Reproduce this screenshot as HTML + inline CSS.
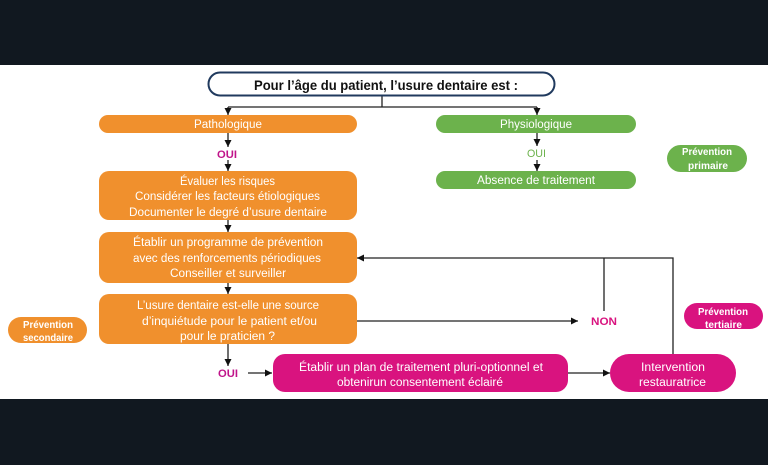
<!DOCTYPE html>
<html><head><meta charset="utf-8"><style>
html,body{margin:0;padding:0;background:#111820;}
svg{display:block;}
text{font-family:"Liberation Sans",sans-serif;}
</style></head><body>
<svg width="768" height="465" viewBox="0 0 768 465" xmlns="http://www.w3.org/2000/svg">
<rect x="0" y="0" width="768" height="465" fill="#111820"/>
<rect x="0" y="65" width="768" height="334" fill="#ffffff"/>
<defs>
<marker id="ah" viewBox="0 0 10 10" refX="10" refY="5" markerWidth="7" markerHeight="7" orient="auto" markerUnits="userSpaceOnUse">
<path d="M0,0 L10,5 L0,10 z" fill="#111"/>
</marker>
</defs>
<g stroke="#222" stroke-width="1.3" fill="none">
<line x1="382" y1="95" x2="382" y2="107"/>
<line x1="228" y1="107" x2="537" y2="107"/>
<line x1="228" y1="107" x2="228" y2="115" marker-end="url(#ah)"/>
<line x1="537" y1="107" x2="537" y2="115" marker-end="url(#ah)"/>
<line x1="228" y1="133" x2="228" y2="147" marker-end="url(#ah)"/>
<line x1="228" y1="160" x2="228" y2="171" marker-end="url(#ah)"/>
<line x1="228" y1="220" x2="228" y2="232" marker-end="url(#ah)"/>
<line x1="228" y1="283" x2="228" y2="294" marker-end="url(#ah)"/>
<line x1="228" y1="344" x2="228" y2="366" marker-end="url(#ah)"/>
<line x1="248" y1="373" x2="272" y2="373" marker-end="url(#ah)"/>
<line x1="568" y1="373" x2="610" y2="373" marker-end="url(#ah)"/>
<line x1="537" y1="133" x2="537" y2="146" marker-end="url(#ah)"/>
<line x1="537" y1="160" x2="537" y2="171" marker-end="url(#ah)"/>
<polyline points="673,354 673,258 357,258" marker-end="url(#ah)"/>
<line x1="604" y1="258" x2="604" y2="311"/>
<line x1="357" y1="321" x2="578" y2="321" marker-end="url(#ah)"/>
</g>
<rect x="208.5" y="72.5" width="346" height="23" rx="11.5" fill="#fff" stroke="#203a5e" stroke-width="2"/>
<text x="254" y="90" font-size="14" font-weight="bold" fill="#111" textLength="264" lengthAdjust="spacingAndGlyphs">Pour l’âge du patient, l’usure dentaire est :</text>

<g fill="#F0902D">
<rect x="99" y="115" width="258" height="18" rx="9"/>
<rect x="99" y="171" width="258" height="49" rx="10"/>
<rect x="99" y="232" width="258" height="51" rx="10"/>
<rect x="99" y="294" width="258" height="50" rx="10"/>
<rect x="8" y="317" width="79" height="26" rx="13"/>
</g>
<g fill="#6CB24C">
<rect x="436" y="115" width="200" height="18" rx="9"/>
<rect x="436" y="171" width="200" height="18" rx="9"/>
<rect x="667" y="145" width="80" height="27" rx="13.5"/>
</g>
<g fill="#D9137F">
<rect x="273" y="354" width="295" height="38" rx="12"/>
<rect x="610" y="354" width="126" height="38" rx="19"/>
<rect x="684" y="303" width="79" height="26" rx="13"/>
</g>

<g fill="#fff" font-size="11.5">
<text x="194" y="128" textLength="68" lengthAdjust="spacingAndGlyphs">Pathologique</text>
<text x="180" y="185" textLength="95" lengthAdjust="spacingAndGlyphs">Évaluer les risques</text>
<text x="135" y="200" textLength="185" lengthAdjust="spacingAndGlyphs">Considérer les facteurs étiologiques</text>
<text x="129" y="216" textLength="198" lengthAdjust="spacingAndGlyphs">Documenter le degré d’usure dentaire</text>
<text x="133" y="246" textLength="190" lengthAdjust="spacingAndGlyphs">Établir un programme de prévention</text>
<text x="133" y="262" textLength="188" lengthAdjust="spacingAndGlyphs">avec des renforcements périodiques</text>
<text x="170" y="277" textLength="116" lengthAdjust="spacingAndGlyphs">Conseiller et surveiller</text>
<text x="137" y="309" textLength="182" lengthAdjust="spacingAndGlyphs">L’usure dentaire est-elle une source</text>
<text x="142" y="325" textLength="175" lengthAdjust="spacingAndGlyphs">d’inquiétude pour le patient et/ou</text>
<text x="180" y="340" textLength="95" lengthAdjust="spacingAndGlyphs">pour le praticien ?</text>
<text x="500" y="128" textLength="72" lengthAdjust="spacingAndGlyphs">Physiologique</text>
<text x="477" y="184" textLength="118" lengthAdjust="spacingAndGlyphs">Absence de traitement</text>
<text x="299" y="371" textLength="244" lengthAdjust="spacingAndGlyphs">Établir un plan de traitement pluri-optionnel et</text>
<text x="337" y="386" textLength="166" lengthAdjust="spacingAndGlyphs">obtenirun consentement éclairé</text>
<text x="641" y="371" textLength="64" lengthAdjust="spacingAndGlyphs">Intervention</text>
<text x="639" y="386" textLength="67" lengthAdjust="spacingAndGlyphs">restauratrice</text>
</g>
<g fill="#fff" font-size="10" font-weight="bold">
<text x="682" y="155" textLength="50" lengthAdjust="spacingAndGlyphs">Prévention</text>
<text x="688" y="169" textLength="40" lengthAdjust="spacingAndGlyphs">primaire</text>
<text x="23" y="328" textLength="50" lengthAdjust="spacingAndGlyphs">Prévention</text>
<text x="23" y="341" textLength="50" lengthAdjust="spacingAndGlyphs">secondaire</text>
<text x="698" y="315" textLength="50" lengthAdjust="spacingAndGlyphs">Prévention</text>
<text x="705" y="328" textLength="37" lengthAdjust="spacingAndGlyphs">tertiaire</text>
</g>
<g font-size="11" font-weight="bold">
<text x="217" y="158" fill="#C0148A" textLength="20" lengthAdjust="spacingAndGlyphs">OUI</text>
<text x="218" y="377" fill="#C0148A" textLength="20" lengthAdjust="spacingAndGlyphs">OUI</text>
<text x="591" y="325" fill="#D9137F" textLength="26" lengthAdjust="spacingAndGlyphs">NON</text>
</g>
<text x="527" y="157" font-size="11" fill="#6CB24C" textLength="19" lengthAdjust="spacingAndGlyphs">OUI</text>
</svg>
</body></html>
